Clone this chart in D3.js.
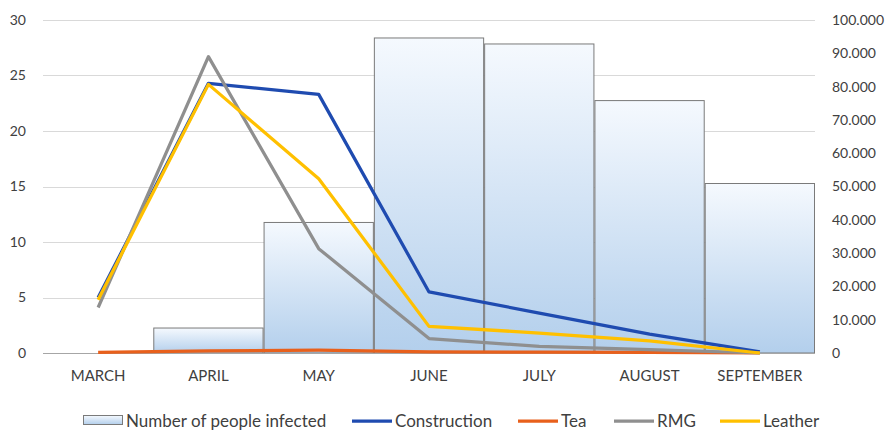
<!DOCTYPE html>
<html>
<head>
<meta charset="utf-8">
<script src="https://cdn.jsdelivr.net/npm/d3@7"></script>
<style>
  html, body { margin: 0; padding: 0; background: #fff; }
  svg { display: block; }
  text { font-family: Lato, "Open Sans", sans-serif; fill: #404040; }
</style>
</head>
<body>
<svg id="chart" width="896" height="431"></svg>
<script>
// Monthly categories
const months = ["MARCH", "APRIL", "MAY", "JUNE", "JULY", "AUGUST", "SEPTEMBER"];

// Bars (right axis): number of people infected
const infected = [0, 7500, 39200, 94600, 92800, 75800, 50900];

// Lines (left axis), one per sector
const construction = [5.0, 24.3, 23.3, 5.5, 3.6, 1.7, 0.1];
const tea          = [0.05, 0.2, 0.25, 0.1, 0.08, 0.05, 0.0];
const rmg          = [4.1, 26.7, 9.4, 1.3, 0.6, 0.3, 0.0];
const leather      = [4.8, 24.2, 15.7, 2.4, 1.8, 1.1, 0.0];

const leftTicks  = [0, 5, 10, 15, 20, 25, 30];
const rightTicks = [0, 10000, 20000, 30000, 40000, 50000, 60000, 70000, 80000, 90000, 100000];

const lineSeries = [
  { name: "Construction", values: construction, color: "#1f4bb0" },
  { name: "Tea",          values: tea,          color: "#e8601c" },
  { name: "RMG",          values: rmg,          color: "#8f8f8f" },
  { name: "Leather",      values: leather,      color: "#ffc000" }
];

const svg = d3.select("#chart");
const plot = { left: 43, right: 815, top: 20, bottom: 353 };

const x = d3.scaleBand().domain(months).range([plot.left, plot.right]).padding(0);
const yL = d3.scaleLinear().domain([0, 30]).range([plot.bottom, plot.top]);
const yR = d3.scaleLinear().domain([0, 100000]).range([plot.bottom, plot.top]);

// Gradient for bars
const defs = svg.append("defs");
const grad = defs.append("linearGradient")
  .attr("id", "barGrad").attr("x1", 0).attr("y1", 0).attr("x2", 0).attr("y2", 1);
grad.append("stop").attr("offset", "0%").attr("stop-color", "#f5f9fe");
grad.append("stop").attr("offset", "100%").attr("stop-color", "#b3cfec");

// Horizontal gridlines
svg.append("g").selectAll("line")
  .data(leftTicks.filter(d => d > 0))
  .join("line")
  .attr("x1", plot.left).attr("x2", plot.right)
  .attr("y1", d => Math.round(yL(d)) + 0.5).attr("y2", d => Math.round(yL(d)) + 0.5)
  .attr("stroke", "#d9d9d9").attr("stroke-width", 1);

// Bars
svg.append("g").selectAll("rect")
  .data(months.map((m, i) => ({ m, v: infected[i] })).filter(d => d.v > 0))
  .join("rect")
  .attr("x", d => x(d.m) + 0.5)
  .attr("width", x.bandwidth() - 1)
  .attr("y", d => yR(d.v))
  .attr("height", d => yR(0) - yR(d.v))
  .attr("fill", "url(#barGrad)")
  .attr("stroke", "#7a7a7a").attr("stroke-width", 1);

// Baseline
svg.append("line")
  .attr("x1", plot.left).attr("x2", plot.right)
  .attr("y1", plot.bottom + 0.5).attr("y2", plot.bottom + 0.5)
  .attr("stroke", "#a6a6a6").attr("stroke-width", 1);

const axisFont = sel => sel.selectAll("text")
  .style("font-size", "14px").attr("fill", "#404040")
  .style("font-family", "Lato, 'Open Sans', sans-serif");

// Left axis
const axL = svg.append("g")
  .attr("transform", `translate(26,0)`)
  .call(d3.axisLeft(yL).tickValues(leftTicks).tickSize(0).tickPadding(0));
axL.select(".domain").remove();
axisFont(axL);

// Right axis
const fmtR = d => d === 0 ? "0" : d3.format(",")(d).replace(/,/g, ".");
const axR = svg.append("g")
  .attr("transform", `translate(832,0)`)
  .call(d3.axisRight(yR).tickValues(rightTicks).tickFormat(fmtR).tickSize(0).tickPadding(0));
axR.select(".domain").remove();
axisFont(axR);

// Bottom axis labels
const axB = svg.append("g")
  .attr("transform", `translate(0,${plot.bottom})`)
  .call(d3.axisBottom(x).tickSize(0).tickPadding(17));
axB.select(".domain").remove();
axisFont(axB);
axB.selectAll("text").style("font-size", "15px");

// Lines
const line = d3.line()
  .x((d, i) => x(months[i]) + x.bandwidth() / 2)
  .y(d => yL(d));

svg.append("g").selectAll("path")
  .data(lineSeries)
  .join("path")
  .attr("d", d => line(d.values))
  .attr("fill", "none")
  .attr("stroke", d => d.color)
  .attr("stroke-width", 3.25)
  .attr("stroke-linejoin", "round");

// Legend
const legY = 421;
const leg = svg.append("g");
const legendItems = [
  { type: "bar",  label: "Number of people infected", x: 83 },
  { type: "line", label: "Construction", x: 352, color: lineSeries[0].color },
  { type: "line", label: "Tea",          x: 518, color: lineSeries[1].color },
  { type: "line", label: "RMG",          x: 614, color: lineSeries[2].color },
  { type: "line", label: "Leather",      x: 720, color: lineSeries[3].color }
];
legendItems.forEach(it => {
  if (it.type === "bar") {
    leg.append("rect")
      .attr("x", it.x + 0.5).attr("y", legY - 5.5)
      .attr("width", 39).attr("height", 9)
      .attr("fill", "url(#barGrad)").attr("stroke", "#7a7a7a");
  } else {
    leg.append("line")
      .attr("x1", it.x).attr("x2", it.x + 40)
      .attr("y1", legY).attr("y2", legY)
      .attr("stroke", it.color).attr("stroke-width", 3.25);
  }
  leg.append("text")
    .attr("x", it.x + 43).attr("y", legY)
    .attr("dy", "0.35em")
    .style("font-size", "17px")
    .text(it.label);
});
</script>
</body>
</html>
